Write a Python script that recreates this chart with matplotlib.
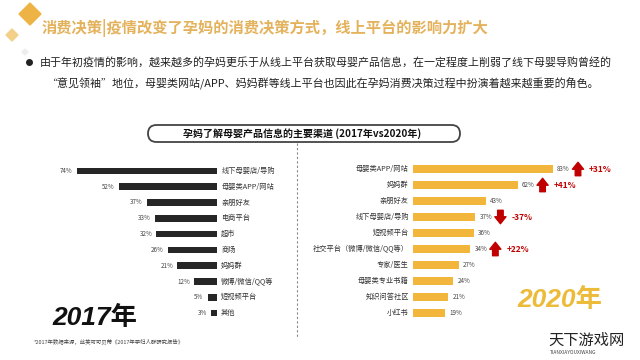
import matplotlib
matplotlib.use('Agg')
import matplotlib.pyplot as plt
from matplotlib.patches import FancyBboxPatch, Polygon
from matplotlib.transforms import offset_copy

plt.rcParams['font.family'] = ['Noto Sans CJK SC', 'DejaVu Sans']

# 2017 data
cats_2017 = ['线下母婴店/导购', '母婴类APP/网站', '亲朋好友', '电商平台', '超市',
             '商场', '妈妈群', '微博/微信/QQ等', '短视频平台', '其他']
vals_2017 = [74, 52, 37, 33, 32, 26, 21, 12, 5, 3]

# 2020 data
cats_2020 = ['母婴类APP/网站', '妈妈群', '亲朋好友', '线下母婴店/导购', '短视频平台',
             '社交平台（微博/微信/QQ等）', '专家/医生', '母婴类专业书籍', '知识问答社区', '小红书']
vals_2020 = [83, 62, 43, 37, 36, 34, 27, 24, 21, 19]
changes_2020 = ['+31%', '+41%', None, '-37%', None, '+22%', None, None, None, None]

title = '消费决策|疫情改变了孕妈的消费决策方式，线上平台的影响力扩大'
line1 = '由于年初疫情的影响，越来越多的孕妈更乐于从线上平台获取母婴产品信息，在一定程度上削弱了线下母婴导购曾经的'
line2 = '“意见领袖”地位，母婴类网站/APP、妈妈群等线上平台也因此在孕妈消费决策过程中扮演着越来越重要的角色。'
chart_title = '孕妈了解母婴产品信息的主要渠道 (2017年vs2020年)'
footnote = '*2017年数据来源，丝芙可可贝蒂《2017年孕妇人群研究报告》'

W, H = 640, 360
fig = plt.figure(figsize=(6.4, 3.6), dpi=100)
fig.patch.set_facecolor('white')

# background axes in pixel coordinates for decorations
bg = fig.add_axes([0, 0, 1, 1])
bg.set_xlim(0, W)
bg.set_ylim(H, 0)
bg.axis('off')

gold = '#E4B25C'
bg.add_patch(Polygon([[30, 3], [41, 14], [30, 25], [19, 14]], closed=True, color='#EDB445'))
bg.add_patch(Polygon([[12, 29], [18, 35], [12, 41], [6, 35]], closed=True, color='#F3D08A'))
bg.add_patch(Polygon([[25, 49], [28, 52], [25, 55], [22, 52]], closed=True, color='#EEEEEE'))
bg.text(42, 28, title, fontsize=11, fontweight='bold', color=gold, va='center', ha='left')

bg.plot([29], [62], marker='o', color='#222222', markersize=4)
bg.text(40, 62, line1, fontsize=7.9, color='#222222', va='center', ha='left')
bg.text(46, 84, line2, fontsize=7.9, color='#222222', va='center', ha='left')

box = FancyBboxPatch((148, 125), 312, 17, boxstyle='round,pad=0,rounding_size=8.5',
                     fc='white', ec='#444444', lw=1.3)
bg.add_patch(box)
bg.text(302, 133.5, chart_title, fontsize=7.2, fontweight='bold', color='#111111',
        ha='center', va='center')
bg.plot([297, 297], [143, 338], ls=(0, (2, 2)), color='#888888', lw=0.8)

bg.text(52, 318, '2017年', fontsize=19, fontweight='bold', style='italic',
        family=['Liberation Sans', 'Noto Sans CJK SC'], color='#111111', va='center', ha='left')
bg.text(517, 300, '2020年', fontsize=19, fontweight='bold', style='italic',
        family=['Liberation Sans', 'Noto Sans CJK SC'], color='#EDBB3A', va='center', ha='left')
bg.text(34, 342, footnote, fontsize=3.9, color='#444444', va='center', ha='left')
bg.text(548, 340, '天下游戏网', fontsize=11, color='#222222', va='center', ha='left')
bg.text(550, 353, 'TIANXIAYOUXIWANG', fontsize=3.5, color='#444444', va='center', ha='left')

# left chart (2017)
n = len(cats_2017)
axl = fig.add_axes([77 / W, 1 - 321 / H, 140 / W, 158 / H])
yl = list(range(n))
axl.barh(yl, vals_2017, height=0.42, color='#262626')
axl.set_xlim(74, 0)
axl.set_ylim(n - 0.5, -0.5)
axl.axis('off')
for i, (c, v) in enumerate(zip(cats_2017, vals_2017)):
    axl.annotate(c, (0, i), xytext=(3, 0), textcoords='offset points',
                 fontsize=5.2, color='#333333', va='center', ha='left')
    axl.annotate(f'{v}%', (v, i), xytext=(-3, 0), textcoords='offset points',
                 fontsize=4.5, color='#444444', va='center', ha='right')

# right chart (2020)
axr = fig.add_axes([413 / W, 1 - 321 / H, 140 / W, 160 / H])
yr = list(range(len(cats_2020)))
axr.barh(yr, vals_2020, height=0.45, color='#F2B63C')
axr.set_xlim(0, 83)
axr.set_ylim(len(cats_2020) - 0.5, -0.5)
axr.axis('off')
red = '#C00000'
arr_tr = offset_copy(axr.transData, fig=fig, x=25, y=0, units='dots')
for i, (c, v, ch) in enumerate(zip(cats_2020, vals_2020, changes_2020)):
    axr.annotate(c, (0, i), xytext=(-3, 0), textcoords='offset points',
                 fontsize=5.2, color='#333333', va='center', ha='right')
    axr.annotate(f'{v}%', (v, i), xytext=(3, 0), textcoords='offset points',
                 fontsize=4.5, color='#444444', va='center', ha='left')
    if ch:
        up = ch.startswith('+')
        head = i - 0.42 if up else i + 0.42
        tail = i + 0.42 if up else i - 0.42
        axr.annotate('', xy=(v, head), xycoords=arr_tr, xytext=(v, tail), textcoords=arr_tr,
                     arrowprops=dict(arrowstyle='simple,head_width=0.8,head_length=0.5,tail_width=0.4',
                                     color=red, mutation_scale=10, shrinkA=0, shrinkB=0))
        axr.annotate(ch, (v, i), xycoords=arr_tr, xytext=(8, 0), textcoords='offset points',
                     fontsize=6, color=red, fontweight='bold', va='center', ha='left')

fig.savefig('out.png', dpi=100)
